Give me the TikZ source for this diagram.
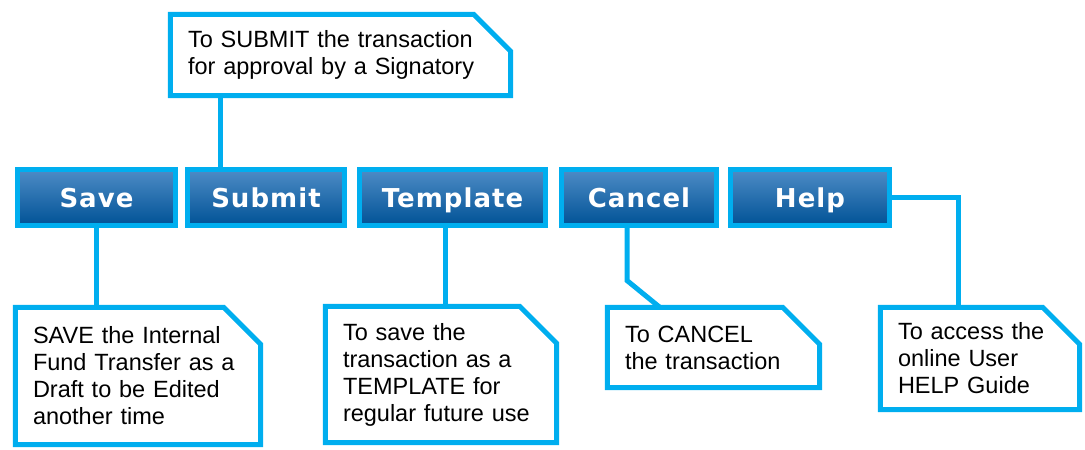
\documentclass[tikz,border=0pt]{standalone}
\usepackage{fontspec}
\setmainfont{Liberation Sans}
\newfontfamily\btnfont[LetterSpace=4]{DejaVu Sans}
\usepackage{tikz}
\tikzset{>=latex}
\definecolor{notecyan}{RGB}{0,174,239}
\definecolor{btntop}{RGB}{78,140,198}
\definecolor{btnbottom}{RGB}{0,82,150}
\tikzset{
  button/.style={draw=notecyan, line width=5pt, top color=btntop, bottom color=btnbottom,
    text=white, font=\btnfont\bfseries\fontsize{26}{30}\selectfont,
    inner sep=0pt, text height=19pt, text depth=0pt, minimum height=56pt},
  note/.style={inner xsep=17.5pt, inner ysep=0pt, align=left,
    font=\fontsize{23.5}{27}\selectfont},
  link/.style={draw=notecyan, line width=5pt},
}

\begin{document}
\begin{tikzpicture}[x=1pt, y=-1pt]
      \useasboundingbox (0,0) rectangle (1085,450);
      \node[button, minimum width=158pt] (save) at (96.5,197.5) {Save};
      \node[button, minimum width=157pt] (submit) at (266,197.5) {Submit};
      \node[button, minimum width=186pt] (template) at (452.5,197.5) {Template};
      \node[button, minimum width=155pt] (cancel) at (639,197.5) {Cancel};
      \node[button, minimum width=159pt] (help) at (810,197.5) {Help};
      \node[note, text width=305pt, minimum height=81pt] (submitnote) at (340.5,55)
        {To SUBMIT the transaction\\for approval by a Signatory};
      \node[note, text width=210pt, minimum height=137pt] (savenote) at (138,376)
        {SAVE the Internal\\Fund Transfer as a\\Draft to be Edited\\another time};
      \node[note, text width=196pt, minimum height=136pt] (templatenote) at (441,374.5)
        {To save the\\transaction as a\\TEMPLATE for\\regular future use};
      \node[note, text width=177pt, minimum height=80pt] (cancelnote) at (713.5,347.5)
        {To CANCEL\\the transaction};
      \node[note, text width=164pt, minimum height=102pt] (helpnote) at (980,358.5)
        {To access the\\online User\\HELP Guide};
      \foreach \n in {submitnote,savenote,templatenote,cancelnote,helpnote}
        \draw[link] (\n.south west) -- (\n.north west) -- ([xshift=-37pt]\n.north east)
          -- ([yshift=-37pt]\n.north east) -- (\n.south east) -- cycle;
      \draw[link] ([xshift=50.5pt]submitnote.south west) -- ([xshift=50.5pt]submitnote.south west |- submit.north);
      \draw[link] (save.south) -- (save.south |- savenote.north);
      \draw[link] ([xshift=-7.5pt]template.south) -- ([xshift=-7.5pt]template.south |- templatenote.north);
      \draw[link] ([xshift=-12pt]cancel.south) -- ++(0,52.5) -- ([xshift=52.5pt]cancelnote.north west);
      \draw[link] (help.east) -| ([xshift=78.5pt]helpnote.north west);
\end{tikzpicture}
\end{document}
